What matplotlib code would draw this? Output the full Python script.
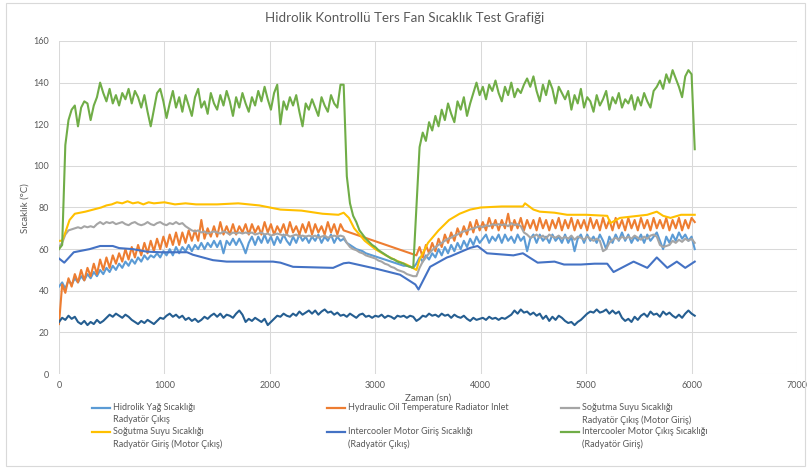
import numpy as np
import matplotlib.pyplot as plt
from matplotlib.lines import Line2D
from matplotlib.patches import Rectangle

plt.rcParams['font.family'] = ['Lato', 'DejaVu Sans']

nan = np.nan

# logger channels on a 30 s grid (0 ... 6030 s)
t_grid = np.arange(0, 6031, 30)

hidrolik_yag = [
    42, 44, 41, 45, 43, 46, 44, 47, 45, 48,
    46, 49, 47, 50, 48, 51, 49, 52, 50, 53,
    51, 54, 52, 55, 53, 56, 54, 57, 55, 57,
    56, 58, 56, 59, 57, 60, 57, 61, 58, 61,
    59, 62, 59, 62, 60, 63, 60, 63, 61, 64,
    61, 64, 58, 64, 62, 65, 62, 65, 62, 58,
    63, 66, 62, 66, 63, 67, 63, 66, 62, 66,
    63, 67, 64, 62, 66, 63, 67, 64, 66, 63,
    66, 64, 67, 63, 66, 64, 67, 63, 66, 64,
    65, 63, 62, 61, 60, 59.5, 59, 58, 57.5, 57,
    56.5, 56, 55.5, 55, 54.5, 54, 53.5, 53, 52.5, 52,
    52, 51.5, 51, 53, 56, 54, 57, 55, 58, 56,
    60, 57, 61, 58, 62, 59, 63, 60, 64, 61,
    65, 62, 66, 63, 65, 67, 63, 66, 64, 67,
    63, 67, 64, 66, 63, 67, 64, 66, 59, 65,
    67, 63, 67, 64, 66, 63, 67, 64, 66, 63,
    67, 63, 66, 59, 65, 67, 63, 67, 64, 66,
    63, 67, 64, 60, 66, 63, 67, 64, 68, 64,
    67, 63, 66, 64, 67, 63, 67, 64, 66, 68,
    64, 60, 66, 63, 67, 64, 68, 65, 67, 64,
    66, 60,
]

radiator_inlet = [
    24, 43, 39, 46, 42, 48, 44, 50, 45, 51,
    47, 53, 48, 55, 50, 56, 51, 57, 53, 58,
    54, 60, 55, 61, 56, 62, 57, 63, 58, 64,
    59, 65, 60, 66, 61, 67, 62, 68, 62, 68,
    63, 69, 64, 69, 64, 74, 65, 70, 66, 71,
    66, 73, 67, 71, 67, 72, 67, 71, 68, 72,
    67, 72, 68, 71, 67, 73, 68, 72, 67, 71,
    68, 72, 67, 73, 68, 71, 67, 72, 68, 73,
    67, 72, 68, 71, 67, 73, 68, 72, 67, 72,
    69, nan, nan, nan, nan, nan, nan, nan, nan, nan,
    nan, nan, nan, nan, nan, nan, nan, nan, nan, nan,
    nan, nan, nan, 57, 61, 56, 62, 58, 63, 59,
    65, 61, 67, 63, 68, 64, 70, 66, 71, 67,
    73, 68, 74, 69, 73, 69, 75, 70, 74, 69,
    74, 70, 77, 69, 74, 70, 75, 69, 74, 70,
    74, 69, 75, 70, 74, 69, 74, 70, 75, 69,
    74, 70, 75, 69, 74, 70, 74, 69, 75, 70,
    74, 69, 75, 70, 74, 69, 75, 70, 74, 69,
    75, 70, 74, 69, 75, 70, 74, 69, 75, 70,
    74, 70, 75, 69, 74, 70, 75, 69, 74, 70,
    75, 73,
]

sogutma_cikis = [
    61, 63, 67, 69, 69.5, 70, 70.5, 70, 71, 70.5,
    71, 70.5, 72, 73, 72, 73, 72.5, 73, 72, 72.5,
    73, 72, 71.5, 72.5, 73, 72, 71.5, 72, 73, 72,
    71.5, 72.5, 73, 72, 71.5, 72.5, 72, 73, 72, 72.5,
    71, 70, 69, 68.5, 69, 68, 68.5, 67.5, 68, 68.5,
    68, 67.5, 68.5, 68, 67, 68, 67.5, 68, 67.5, 68,
    67.5, 68, 67, 67.5, 68, 67, 67.5, 66.5, 67, 67.5,
    67, 66.5, 67, 66, 66.5, 67, 66, 66.5, 66, 66.5,
    66, 66.5, 65.5, 66, 66.5, 65.5, 66, 66.5, 66, 66.5,
    66, 63, 61, 60, 59.5, 58.5, 58, 57, 56.5, 56,
    55.5, 54.5, 54, 53, 52.5, 51.5, 51, 50, 49.5, 49,
    48, 47.5, 47, 47, 51, 54, 56, 58, 59.5, 61,
    62, 63, 64, 65, 65.5, 66.5, 67, 68, 68.5, 69,
    69.5, 70, 70.5, 71, 70.5, 71.5, 71, 72, 71.5, 72,
    71.5, 72, 71, 72.5, 71.5, 72, 71, 68, 67, 65.5,
    66, 67, 65.5, 66.5, 65, 67, 66, 65.5, 66.5, 65,
    66, 65, 66.5, 64.5, 66, 65.5, 64.5, 66, 65, 64,
    65, 64, 59, 60, 63, 64.5, 65.5, 64.5, 66, 65,
    66, 65, 66.5, 65.5, 64.5, 66, 65, 66.5, 67, 66,
    62, 61, 61.5, 62, 64, 63, 64.5, 63.5, 65, 64,
    65, 63,
]

ic_cikis = [
    60, 62, 110, 122, 127, 129, 119, 128, 131, 130,
    122, 129, 133, 140, 135, 131, 137, 130, 134, 129,
    135, 132, 137, 130, 136, 133, 128, 134, 126, 119,
    127, 135, 137, 131, 123, 130, 136, 128, 133, 126,
    134, 129, 124, 133, 137, 128, 131, 125, 135, 130,
    127, 134, 129, 136, 131, 124, 133, 128, 135, 130,
    126, 133, 129, 136, 131, 138, 132, 127, 135, 139,
    120, 131, 127, 133, 129, 134, 126, 119, 130, 127,
    132, 128, 124, 133, 129, 126, 134, 130, 128, 139,
    139, 95, 82, 76, 73, 69, 67, 65, 63.5, 62,
    61, 59.5, 58.5, 57.5, 56.5, 55.5, 55, 54, 53.5, 53,
    52, 51.5, 51, 80, 109, 116, 112, 121, 117, 124,
    119, 127, 122, 130, 125, 121, 131, 127, 133, 124,
    130, 135, 140, 134, 138, 132, 139, 136, 141, 135,
    131, 138, 134, 140, 133, 137, 135, 139, 142, 138,
    143, 136, 131, 139, 134, 141, 137, 130, 138, 135,
    132, 136, 127, 134, 130, 137, 128, 133, 131, 126,
    134, 129, 132, 136, 127, 133, 130, 135, 128, 132,
    130, 134, 127, 133, 129, 135, 131, 128, 136, 138,
    141, 137, 144, 140, 146, 142, 138, 133, 143, 146,
    144, 108,
]

ek_kanal = [
    25, 27, 26, 28, 26.5, 27.5, 25, 24, 25.5, 23.5,
    25, 24, 26, 24.5, 25.5, 27, 28.5, 27.5, 29, 28,
    27, 28.5, 27.5, 26, 25, 24, 25.5, 24.5, 26, 25,
    24, 25.5, 27, 26.5, 28, 29, 27.5, 28.5, 27, 28,
    26, 27, 25.5, 26.5, 25, 26, 27.5, 26.5, 28, 29,
    27.5, 29, 27, 28.5, 28, 27, 29, 30.5, 28.5, 25,
    26.5, 25.5, 27, 26, 25, 26.5, 23.5, 25, 26.5, 28,
    27.5, 29, 28, 27.5, 29, 28, 30, 28.5, 29.5, 30.5,
    29, 30.5, 28.5, 30, 31, 29.5, 30, 28.5, 29.5, 28,
    28.5, 27.5, 29, 28, 27, 28.5, 29, 27.5, 28, 27,
    28, 27.5, 28.5, 27, 28, 27.5, 26.5, 28, 27.5, 28,
    27, 28, 27.5, 25.5, 26.5, 28, 27.5, 29, 28, 28.5,
    27.5, 29, 28, 28.5, 27, 28.5, 27.5, 27, 28, 26.5,
    25.5, 27, 26, 26.5, 27, 26, 27.5, 26.5, 27, 26,
    27, 26.5, 27.5, 28.5, 30.5, 29, 31, 29.5, 30, 28.5,
    29.5, 28, 29, 26.5, 28, 25.5, 27.5, 26, 28, 27,
    25.5, 24.5, 25, 23.5, 25, 26, 27.5, 29, 30, 29.5,
    31, 29.5, 30, 31, 29, 30.5, 29, 30, 27, 25.5,
    26.5, 25, 27.5, 26, 28, 29, 27.5, 30, 28.5, 29,
    27.5, 30, 28.5, 29.5, 28, 27, 28.5, 27, 29, 30.5,
    29, 28,
]

# smoother channels, read at their turning points
t_sogutma_giris = [0, 30, 60, 100, 150, 250, 400, 450, 500, 550, 600, 650, 700, 750,
                   800, 850, 900, 1000, 1100, 1200, 1300, 1500, 1700, 1900, 2000,
                   2100, 2300, 2500, 2650, 2700, 2750, 2800, 2900, 3000, 3100, 3200,
                   3300, 3390, 3420, 3500, 3600, 3700, 3800, 3900, 4000, 4200, 4400,
                   4420, 4500, 4560, 4700, 4820, 5000, 5200, 5230, 5320, 5580, 5670,
                   5730, 5800, 5900, 6030]
sogutma_giris = [64, 64, 68, 74, 77, 78, 80, 81, 81.5, 82.5, 82, 83, 82, 82.5,
                 81.5, 82.5, 82, 82.5, 81.5, 82, 81.5, 81.5, 82, 81, 80,
                 79, 78.5, 77, 76.5, 77.5, 75, 70, 64, 60, 57, 54.5,
                 52.5, 50, 55, 63, 69, 74, 77, 79, 80, 80.5, 80.5,
                 82, 79, 78, 77.5, 76.5, 76.5, 76, 72.5, 75, 76.5, 78,
                 76, 75, 76.5, 76.5]

t_ic_giris = [0, 50, 140, 290, 390, 510, 570, 700, 830, 960, 1215, 1270, 1460, 1590,
              2030, 2100, 2220, 2600, 2700, 2750, 3015, 3235, 3380, 3410, 3520, 3680,
              3710, 3900, 3970, 4060, 4310, 4400, 4540, 4700, 4790, 4950, 5080, 5200,
              5260, 5450, 5580, 5670, 5770, 5860, 5940, 6030]
ic_giris = [55.5, 53.5, 58.5, 60, 61.5, 61.5, 60.5, 60, 58.8, 58.5, 58.5, 57.3, 54.7, 54,
            54, 53.5, 51.5, 51, 53.2, 53.5, 50.5, 47.7, 43, 40.6, 51.5, 56,
            56.5, 60.6, 61.5, 58, 57, 58, 53.5, 54, 52.6, 52.6, 53, 53,
            49, 54, 51, 56, 51, 54, 51, 54]

for name, s in [('hidrolik_yag', hidrolik_yag), ('radiator_inlet', radiator_inlet),
                ('sogutma_cikis', sogutma_cikis), ('ic_cikis', ic_cikis), ('ek_kanal', ek_kanal)]:
    assert len(s) == len(t_grid), (name, len(s))
assert len(t_sogutma_giris) == len(sogutma_giris)
assert len(t_ic_giris) == len(ic_giris)

labels = ['Hidrolik Yağ Sıcaklığı\nRadyatör Çıkış',
          'Hydraulic Oil Temperature Radiator Inlet',
          'Soğutma Suyu Sıcaklığı\nRadyatör Çıkış (Motor Giriş)',
          'Soğutma Suyu Sıcaklığı\nRadyatör Giriş (Motor Çıkış)',
          'Intercooler Motor Giriş Sıcaklığı\n(Radyatör Çıkış)',
          'Intercooler Motor Çıkış Sıcaklığı\n(Radyatör Giriş)']
colors = ['#5B9BD5', '#ED7D31', '#A5A5A5', '#FFC000', '#4472C4', '#70AD47']
extra_color = '#255E91'

series = [
    (t_grid, hidrolik_yag),
    (t_grid, radiator_inlet),
    (t_grid, sogutma_cikis),
    (t_sogutma_giris, sogutma_giris),
    (t_ic_giris, ic_giris),
    (t_grid, ic_cikis),
]

fig = plt.figure(figsize=(8.10, 4.71), dpi=100)
W, H = 810, 471
ax = fig.add_axes([59 / W, 1 - 374 / H, (797 - 59) / W, (374 - 41) / H])

for (t, v), c in zip(series, colors):
    t = np.asarray(t, dtype=float)
    v = np.asarray(v, dtype=float)
    ok = ~np.isnan(v)  # gaps in the log are bridged like in Excel
    ax.plot(t[ok], v[ok], color=c, lw=1.5, solid_joinstyle='round')
ax.plot(t_grid, ek_kanal, color=extra_color, lw=1.5)

ax.set_xlim(0, 7000)
ax.set_ylim(0, 160)
ax.set_xticks(np.arange(0, 7001, 1000))
ax.set_yticks(np.arange(0, 161, 20))
ax.grid(True, color='#D9D9D9', lw=0.75)
ax.set_axisbelow(True)
for sp in ax.spines.values():
    sp.set_visible(False)
ax.tick_params(length=0, labelsize=6.5, labelcolor='#595959')
ax.tick_params(axis='y', pad=7)
ax.tick_params(axis='x', pad=5)

fig.text(0.5, 1 - 18 / H, 'Hidrolik Kontrollü Ters Fan Sıcaklık Test Grafiği',
         ha='center', va='center', fontsize=9.6, color='#595959')
fig.text(428 / W, 1 - 398 / H, 'Zaman (sn)', ha='center', va='center',
         fontsize=7, color='#595959')
fig.text(25 / W, 1 - 208 / H, 'Sıcaklık (°C)', rotation=90, ha='center', va='center',
         fontsize=7, color='#595959')

# legend drawn by hand: 3 columns x 2 rows, marker at first text line
col_x = [92, 327, 561]
row_y = [408, 432]
for i, (lab, c) in enumerate(zip(labels, colors)):
    x0 = col_x[i % 3]
    y0 = row_y[i // 3]
    fig.add_artist(Line2D([x0 / W, (x0 + 18) / W], [1 - y0 / H, 1 - y0 / H],
                          color=c, lw=1.6, transform=fig.transFigure))
    fig.text((x0 + 21) / W, 1 - (y0 - 5) / H, lab, ha='left', va='top',
             fontsize=6.5, color='#595959', linespacing=1.45)

fig.add_artist(Rectangle((6 / W, 5 / H), (805 - 6) / W, (468 - 5) / H,
                         transform=fig.transFigure, fill=False,
                         edgecolor='#D9D9D9', lw=0.8))

fig.savefig('out.png', dpi=100, facecolor='white')
